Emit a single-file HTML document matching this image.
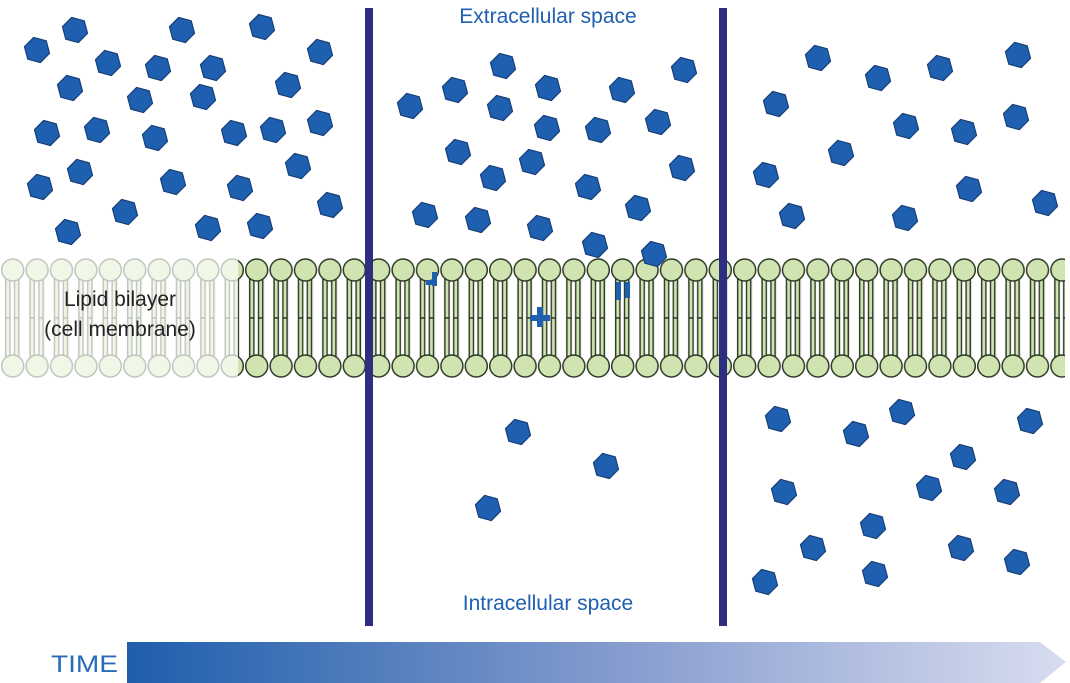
<!DOCTYPE html>
<html><head><meta charset="utf-8"><style>
html,body{margin:0;padding:0;background:#fff;}
svg{display:block;}
</style></head><body>
<svg width="1070" height="683" viewBox="0 0 1070 683" xmlns="http://www.w3.org/2000/svg">
<defs>
<polygon id="m" points="13,0 6.5,11.3 -6.5,11.3 -13,0 -6.5,-11.3 6.5,-11.3" fill="#1f5fb0" stroke="#163f78" stroke-width="1.2" stroke-linejoin="round" transform="rotate(15)"/>
<pattern id="lipid" x="0.5" y="258" width="24.4" height="122" patternUnits="userSpaceOnUse">
<rect x="4" y="20" width="16" height="80" fill="#e4e4e4"/>
<rect x="9.4" y="20" width="4.6" height="80" fill="#fff"/>
<rect x="5.2" y="20" width="4.2" height="40" fill="#cfe4b0" stroke="#2e3a26" stroke-width="1.4"/>
<rect x="14" y="20" width="4.2" height="40" fill="#cfe4b0" stroke="#2e3a26" stroke-width="1.4"/>
<rect x="5.2" y="60" width="4.2" height="40" fill="#cfe4b0" stroke="#2e3a26" stroke-width="1.4"/>
<rect x="14" y="60" width="4.2" height="40" fill="#cfe4b0" stroke="#2e3a26" stroke-width="1.4"/>
<circle cx="12.2" cy="12" r="11" fill="#cfe4b0" stroke="#2e3a26" stroke-width="1.5"/>
<circle cx="12.2" cy="108" r="11" fill="#cfe4b0" stroke="#2e3a26" stroke-width="1.5"/>
</pattern>
<linearGradient id="tg" x1="0" x2="1" y1="0" y2="0">
<stop offset="0" stop-color="#1e5eac"/>
<stop offset="0.55" stop-color="#8a9fd0"/>
<stop offset="1" stop-color="#d8ddf0"/>
</linearGradient>
</defs>

<rect x="0" y="258" width="1065" height="122" fill="url(#lipid)"/>
<rect x="0" y="256" width="238" height="126" fill="#fff" opacity="0.7"/>
<text x="120" y="306" font-family="Liberation Sans, sans-serif" font-size="21" fill="#222" text-anchor="middle">Lipid bilayer</text>
<text x="120" y="336" font-family="Liberation Sans, sans-serif" font-size="21" fill="#222" text-anchor="middle">(cell membrane)</text>

<g>
<use href="#m" x="37" y="50"/><use href="#m" x="75" y="30"/><use href="#m" x="108" y="63"/><use href="#m" x="182" y="30"/><use href="#m" x="262" y="27"/><use href="#m" x="320" y="52"/><use href="#m" x="70" y="88"/><use href="#m" x="158" y="68"/><use href="#m" x="213" y="68"/><use href="#m" x="140" y="100"/><use href="#m" x="203" y="97"/><use href="#m" x="288" y="85"/><use href="#m" x="47" y="133"/><use href="#m" x="97" y="130"/><use href="#m" x="155" y="138"/><use href="#m" x="234" y="133"/><use href="#m" x="273" y="130"/><use href="#m" x="320" y="123"/><use href="#m" x="40" y="187"/><use href="#m" x="80" y="172"/><use href="#m" x="173" y="182"/><use href="#m" x="240" y="188"/><use href="#m" x="298" y="166"/><use href="#m" x="330" y="205"/><use href="#m" x="68" y="232"/><use href="#m" x="125" y="212"/><use href="#m" x="208" y="228"/><use href="#m" x="260" y="226"/>
<use href="#m" x="410" y="106"/><use href="#m" x="455" y="90"/><use href="#m" x="503" y="66"/><use href="#m" x="548" y="88"/><use href="#m" x="622" y="90"/><use href="#m" x="684" y="70"/><use href="#m" x="500" y="108"/><use href="#m" x="547" y="128"/><use href="#m" x="598" y="130"/><use href="#m" x="658" y="122"/><use href="#m" x="458" y="152"/><use href="#m" x="493" y="178"/><use href="#m" x="532" y="162"/><use href="#m" x="588" y="187"/><use href="#m" x="682" y="168"/><use href="#m" x="425" y="215"/><use href="#m" x="478" y="220"/><use href="#m" x="540" y="228"/><use href="#m" x="638" y="208"/><use href="#m" x="595" y="245"/><use href="#m" x="654" y="254"/>
<use href="#m" x="518" y="432"/><use href="#m" x="606" y="466"/><use href="#m" x="488" y="508"/>
<use href="#m" x="818" y="58"/><use href="#m" x="878" y="78"/><use href="#m" x="940" y="68"/><use href="#m" x="1018" y="55"/><use href="#m" x="776" y="104"/><use href="#m" x="906" y="126"/><use href="#m" x="964" y="132"/><use href="#m" x="1016" y="117"/><use href="#m" x="841" y="153"/><use href="#m" x="766" y="175"/><use href="#m" x="969" y="189"/><use href="#m" x="1045" y="203"/><use href="#m" x="792" y="216"/><use href="#m" x="905" y="218"/>
<use href="#m" x="778" y="419"/><use href="#m" x="856" y="434"/><use href="#m" x="902" y="412"/><use href="#m" x="1030" y="421"/><use href="#m" x="963" y="457"/><use href="#m" x="784" y="492"/><use href="#m" x="929" y="488"/><use href="#m" x="1007" y="492"/><use href="#m" x="873" y="526"/><use href="#m" x="813" y="548"/><use href="#m" x="961" y="548"/><use href="#m" x="1017" y="562"/><use href="#m" x="765" y="582"/><use href="#m" x="875" y="574"/>
</g>
<g fill="#1f5fb0">
<rect x="432" y="272" width="5" height="14"/><rect x="426" y="280" width="6" height="5"/>
<rect x="537" y="307" width="6" height="20"/><rect x="530" y="315" width="20" height="6"/>
<rect x="616" y="282" width="5" height="18"/><rect x="625" y="282" width="5" height="16"/>
</g>

<rect x="365" y="8" width="8" height="618" fill="#2e2e80"/>
<rect x="719" y="8" width="8" height="618" fill="#2e2e80"/>

<text x="548" y="23" font-family="Liberation Sans, sans-serif" font-size="21" fill="#1f5fb0" text-anchor="middle">Extracellular space</text>
<text x="548" y="610" font-family="Liberation Sans, sans-serif" font-size="21" fill="#1f5fb0" text-anchor="middle">Intracellular space</text>

<polygon points="127,642 1040,642 1066,662 1040,683 127,683" fill="url(#tg)"/>
<text x="51" y="672" font-family="Liberation Sans, sans-serif" font-size="24" fill="#2a6ab8" textLength="67" lengthAdjust="spacingAndGlyphs">TIME</text>
</svg>
</body></html>
